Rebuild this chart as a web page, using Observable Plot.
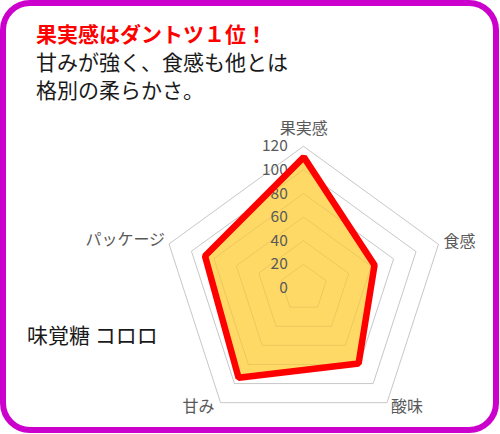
<!DOCTYPE html>
<html>
<head>
<meta charset="utf-8">
<script src="https://cdn.jsdelivr.net/npm/d3@7"></script>
<script src="https://cdn.jsdelivr.net/npm/@observablehq/plot@0.6"></script>
<style>
  html, body { margin: 0; padding: 0; background: #fff; }
  #wrap { position: relative; width: 500px; height: 434px; overflow: hidden; font-family: "Noto Sans CJK JP", "Noto Sans", sans-serif; }
  #chart { position: absolute; left: 0; top: 0; }
  .frame { position: absolute; left: 0; top: 0; width: 499px; height: 433px; box-sizing: border-box; border: 6px solid #CC00CC; border-radius: 30px; pointer-events: none; }
  .txt { position: absolute; white-space: nowrap; line-height: 1; }
  .title { left: 36px; top: 23px; font-size: 21px; font-weight: bold; color: #FF0000; }
  .sub1 { left: 36px; top: 51px; font-size: 21px; color: #1a1a1a; }
  .sub2 { left: 36px; top: 79px; font-size: 21px; color: #1a1a1a; }
  .name { left: 27px; top: 324px; font-size: 21px; color: #1a1a1a; }
</style>
</head>
<body>
<div id="wrap">
  <div id="chart"></div>
  <div class="txt title">果実感はダントツ１位！</div>
  <div class="txt sub1">甘みが強く、食感も他とは</div>
  <div class="txt sub2">格別の柔らかさ。</div>
  <div class="txt name">味覚糖 コロロ</div>
  <div class="frame"></div>
</div>
<script>
const categories = ["果実感", "食感", "酸味", "甘み", "パッケージ"];
const values = [111, 63, 79, 94, 88];
const tickValues = [0, 20, 40, 60, 80, 100, 120];
const gridLevels = [20, 40, 60, 80, 100, 120];
const maxValue = 120;

const n = categories.length;
const angle = i => (i * 2 * Math.PI) / n;
const polar = (v, i) => ({x: v * Math.sin(angle(i)), y: v * Math.cos(angle(i))});

const gridData = gridLevels.flatMap(level =>
  categories.map((c, i) => ({level, ...polar(level, i)}))
);
const seriesData = values.map((v, i) => ({category: categories[i], value: v, ...polar(v, i)}));
const labelData = categories.map((c, i) => ({category: c, ...polar(maxValue, i)}));

// label placement around the outer ring
const labelStyle = [
  {dx: 0, dy: -18, textAnchor: "middle"},
  {dx: 5, dy: -2, textAnchor: "start"},
  {dx: 20, dy: 4, textAnchor: "middle"},
  {dx: -22, dy: 4, textAnchor: "middle"},
  {dx: -4, dy: -4, textAnchor: "end"}
];

// pixel geometry: center (303.3, 287.6), 1.18 px per unit
const cx = 303.3, cy = 287.6, k = 1.18;
const W = 500, H = 434;

const labelMarks = labelData.map((d, i) =>
  Plot.text([d], {
    x: "x", y: "y", text: "category",
    dx: labelStyle[i].dx, dy: labelStyle[i].dy, textAnchor: labelStyle[i].textAnchor,
    fontSize: 16, fill: "#595959"
  })
);

const chart = Plot.plot({
  width: W,
  height: H,
  margin: 0,
  x: {domain: [-cx / k, (W - cx) / k], axis: null},
  y: {domain: [-(H - cy) / k, cy / k], axis: null},
  style: {background: "transparent", fontFamily: "'Noto Sans CJK JP', 'Noto Sans', sans-serif"},
  marks: [
    Plot.line(gridData, {x: "x", y: "y", z: "level", curve: "linear-closed", stroke: "#d9d9d9", strokeWidth: 1}),
    Plot.line(seriesData, {x: "x", y: "y", curve: "linear-closed", fill: "#FFD966", stroke: "none"}),
    Plot.line(gridData, {x: "x", y: "y", z: "level", curve: "linear-closed", stroke: "#000", strokeOpacity: 0.08, strokeWidth: 1}),
    Plot.text(tickValues, {x: () => 0, y: d => d, text: d => String(d), dx: -16, textAnchor: "end", fontSize: 15.5, fill: "#595959"}),
    Plot.line(seriesData, {x: "x", y: "y", curve: "linear-closed", stroke: "#FF0000", strokeWidth: 6.5, strokeLinejoin: "miter", fill: "none"}),
    ...labelMarks
  ]
});
document.getElementById("chart").appendChild(chart);
</script>
</body>
</html>
